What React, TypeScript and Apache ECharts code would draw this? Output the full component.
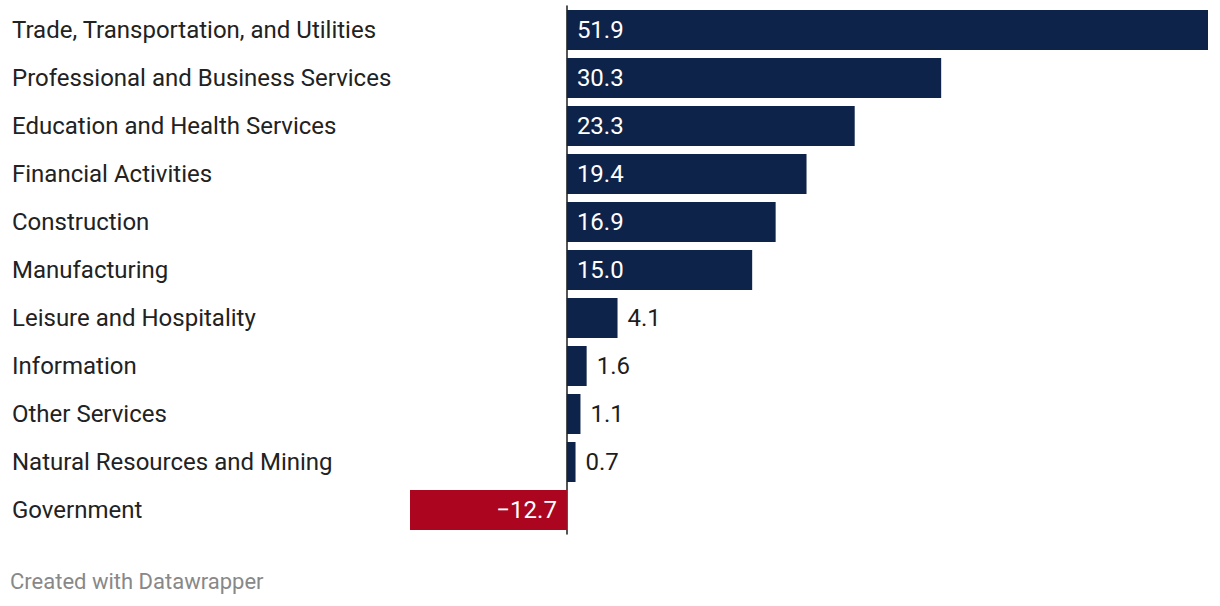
import React, { useEffect, useRef } from "react";
import * as echarts from "echarts";

const categories = [
  "Trade, Transportation, and Utilities",
  "Professional and Business Services",
  "Education and Health Services",
  "Financial Activities",
  "Construction",
  "Manufacturing",
  "Leisure and Hospitality",
  "Information",
  "Other Services",
  "Natural Resources and Mining",
  "Government",
];
const values = [51.9, 30.3, 23.3, 19.4, 16.9, 15.0, 4.1, 1.6, 1.1, 0.7, -12.7];
const footerText = "Created with Datawrapper";

const NAVY = "#0e2349";
const RED = "#ab0520";
const FONT = "Roboto";

export default function App() {
  const ref = useRef<HTMLDivElement>(null);
  useEffect(() => {
    document.body.style.margin = "0";
    const chart = echarts.init(ref.current!, null, { renderer: "svg" });
    const fmt = (v: number) => (v < 0 ? "\u2212" + Math.abs(v).toFixed(1) : v.toFixed(1));
    const data = values.map((v) => {
      if (v < 0) {
        return {
          value: v,
          itemStyle: { color: RED },
          label: { position: "insideRight", color: "#ffffff", distance: 10 },
        };
      }
      if (v >= 10) {
        return {
          value: v,
          itemStyle: { color: NAVY },
          label: { position: "insideLeft", color: "#ffffff", distance: 10 },
        };
      }
      return {
        value: v,
        itemStyle: { color: NAVY },
        label: { position: "right", color: "#1d1d1d", distance: 10 },
      };
    });
    chart.setOption({
      animation: false,
      textStyle: { fontFamily: FONT },
      grid: {
        left: 410,
        right: 12,
        top: 6,
        height: 528,
        containLabel: false,
        outerBoundsMode: "none",
      },
      xAxis: {
        type: "value",
        min: -12.7,
        max: 51.9,
        show: false,
      },
      yAxis: {
        type: "category",
        data: categories,
        inverse: true,
        axisLine: { show: true, onZero: true, lineStyle: { color: "#1d1d1d", width: 1.5 } },
        axisTick: { show: false },
        axisLabel: {
          align: "left",
          margin: 398,
          fontSize: 24,
          color: "#222222",
          fontFamily: FONT,
        },
        splitLine: { show: false },
      },
      series: [
        {
          type: "bar",
          data,
          barCategoryGap: "16.67%",
          label: {
            show: true,
            fontSize: 24,
            fontFamily: FONT,
            formatter: (p: any) => fmt(p.value),
          },
          z: 1,
        },
      ],
      graphic: [
        {
          type: "text",
          left: 10,
          top: 570,
          style: { text: footerText, fontSize: 22, fill: "#888888", fontFamily: FONT },
        },
      ],
    });
    return () => chart.dispose();
  }, []);
  return <div ref={ref} style={{ width: 1220, height: 606 }} />;
}
